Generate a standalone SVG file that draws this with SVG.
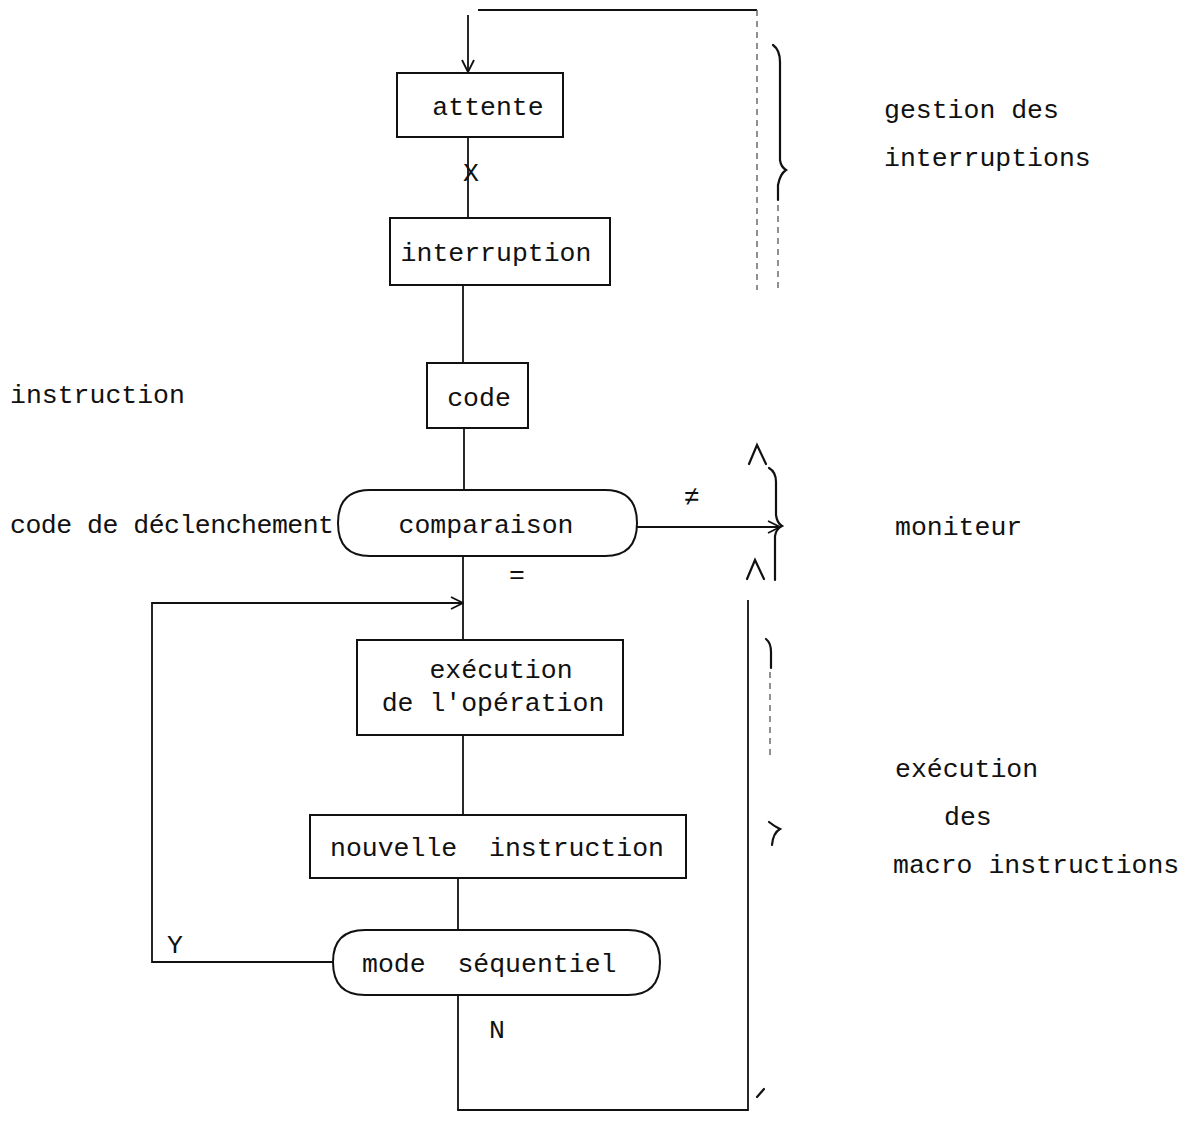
<svg xmlns="http://www.w3.org/2000/svg" width="1202" height="1122" viewBox="0 0 1202 1122">
  <style>
    .box { fill: none; stroke: #111; stroke-width: 2; }
    .ln { fill: none; stroke: #111; stroke-width: 1.8; }
    .faint { fill: none; stroke: #555; stroke-width: 1.3; stroke-dasharray: 6 5; }
    .brace { fill: none; stroke: #111; stroke-width: 2.2; stroke-linecap: round; }
    text { font-family: "Liberation Mono", "Courier New", monospace; font-size: 26.5px; fill: #111; }
    .mid { text-anchor: middle; }
  </style>
  <defs>
    <marker id="chev" viewBox="0 0 14 14" refX="13" refY="7" markerWidth="14" markerHeight="14" markerUnits="userSpaceOnUse" orient="auto">
      <path d="M1,1 L13,7 L1,13" fill="none" stroke="#111" stroke-width="1.8"/>
    </marker>
  </defs>

  <!-- connectors -->
  <g id="connectors">
    <path class="ln" d="M478,10 H757"/>
    <path class="faint" d="M757,10 V290"/>
    <path class="ln" d="M468,15 V72" marker-end="url(#chev)"/>
    <path class="ln" d="M468,137 V218"/>
    <path class="ln" d="M463,285 V363"/>
    <path class="ln" d="M464,428 V490"/>
    <path class="ln" d="M637,527 H780" marker-end="url(#chev)"/>
    <path class="ln" d="M463,556 V640"/>
    <path class="ln" d="M463,735 V815"/>
    <path class="ln" d="M458,878 V930"/>
    <path class="ln" d="M333,962 H152 V603 H463" marker-end="url(#chev)"/>
    <path class="ln" d="M458,995 V1110 H748 V600"/>
    <path class="brace" d="M749,464 L757,445 L766,464"/>
    <path class="brace" d="M747,579 L755,560 L764,579"/>
  </g>

  <!-- braces -->
  <g id="braces">
    <path class="brace" d="M773,45 Q780,50 780,62 V160 Q781,167 786,170 Q780,174 778,185 V200"/>
    <path class="faint" d="M778,205 V290"/>
    <path class="brace" d="M769,468 Q776,472 776,482 V515 Q777,523 782,526 Q776,529 775,536 V580"/>
    <path class="brace" d="M766,639 Q771,643 771,652 V668"/>
    <path class="faint" d="M770,672 V760"/>
    <path class="brace" d="M769,822 Q774,826 780,829 Q773,833 772,845"/>
    <path class="brace" d="M757,1097 L764,1089"/>
  </g>

  <!-- nodes -->
  <g id="node-attente">
    <rect class="box" x="397" y="73" width="166" height="64"/>
    <text class="mid" x="488" y="115">attente</text>
  </g>
  <g id="node-interruption">
    <rect class="box" x="390" y="218" width="220" height="67"/>
    <text class="mid" x="496" y="261">interruption</text>
  </g>
  <g id="node-code">
    <rect class="box" x="427" y="363" width="101" height="65"/>
    <text class="mid" x="479" y="406">code</text>
  </g>
  <g id="node-comparaison">
    <path class="box" d="M370,490 H605 Q637,490 637,523 Q637,556 605,556 H370 Q338,556 338,523 Q338,490 370,490 Z"/>
    <text class="mid" x="486" y="533">comparaison</text>
  </g>
  <g id="node-execution">
    <rect class="box" x="357" y="640" width="266" height="95"/>
    <text class="mid" x="501" y="678">exécution</text>
    <text class="mid" x="493" y="711">de l'opération</text>
  </g>
  <g id="node-nouvelle">
    <rect class="box" x="310" y="815" width="376" height="63"/>
    <text x="330" y="856" xml:space="preserve">nouvelle  instruction</text>
  </g>
  <g id="node-mode">
    <path class="box" d="M365,930 H628 Q660,930 660,962 Q660,995 628,995 H365 Q333,995 333,962 Q333,930 365,930 Z"/>
    <text x="362" y="972" xml:space="preserve">mode  séquentiel</text>
  </g>

  <!-- labels -->
  <g id="labels">
    <text x="463" y="181">X</text>
    <text x="509" y="583">=</text>
    <text x="684" y="505">≠</text>
    <text x="167" y="953">Y</text>
    <text x="489" y="1038">N</text>
    <text x="10" y="403">instruction</text>
    <text x="10" y="533" textLength="324" lengthAdjust="spacing">code de déclenchement</text>
    <text x="884" y="118">gestion des</text>
    <text x="884" y="166">interruptions</text>
    <text x="895" y="535">moniteur</text>
    <text x="895" y="777">exécution</text>
    <text x="944" y="825">des</text>
    <text x="893" y="873">macro instructions</text>
  </g>
</svg>
